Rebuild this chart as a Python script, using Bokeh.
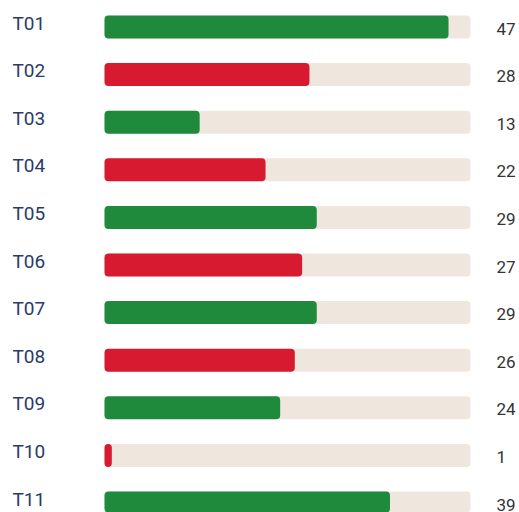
from bokeh.plotting import figure
from bokeh.models import ColumnDataSource, Range1d
from bokeh.core.properties import value
from bokeh.embed import file_html
from bokeh.resources import INLINE

labels = ["T01", "T02", "T03", "T04", "T05", "T06", "T07", "T08", "T09", "T10", "T11"]
values = [47, 28, 13, 22, 29, 27, 29, 26, 24, 1, 39]
status = ["good", "bad", "good", "bad", "good", "bad", "good", "bad", "good", "bad", "good"]
max_value = 50

GREEN = "#1f8a3c"
RED = "#d71a30"
TRACK = "#efe7de"

idx = list(range(len(labels)))
src = ColumnDataSource(dict(
    y=idx,
    label=labels,
    val=values,
    txt=[str(v) for v in values],
    full=[max_value] * len(labels),
    color=[GREEN if s == "good" else RED for s in status],
))

W, H = 519, 512
px_per_unit = 366 / max_value
x0 = -104 / px_per_unit
x1 = x0 + W / px_per_unit
row = 47.6
y_top = -26.5 / row
y_bot = y_top + H / row

p = figure(width=W, height=H, output_backend="svg", toolbar_location=None,
           x_range=Range1d(x0, x1), y_range=Range1d(y_bot, y_top),
           min_border=0, outline_line_color=None)
p.axis.visible = False
p.grid.visible = False
p.background_fill_color = "white"
p.border_fill_color = "white"

bh = 23 / row
p.hbar(y="y", left=0, right="full", height=bh, source=src, fill_color=TRACK,
       line_color=None, border_radius=4)
p.hbar(y="y", left=0, right="val", height=bh, source=src, fill_color="color",
       line_color=None, border_radius=4)

p.text(x=0, y="y", text="label", source=src, x_offset=-92, y_offset=-4,
       text_align="left", text_baseline="middle",
       text_font=value("Roboto"), text_font_size="19px",
       text_color="#2b3a68")
p.text(x=max_value, y="y", text="txt", source=src, x_offset=26, y_offset=1.5,
       text_align="left", text_baseline="middle",
       text_font=value("Roboto"), text_font_size="17px",
       text_color="#333333")

open("out.html", "w").write(file_html(p, INLINE))
